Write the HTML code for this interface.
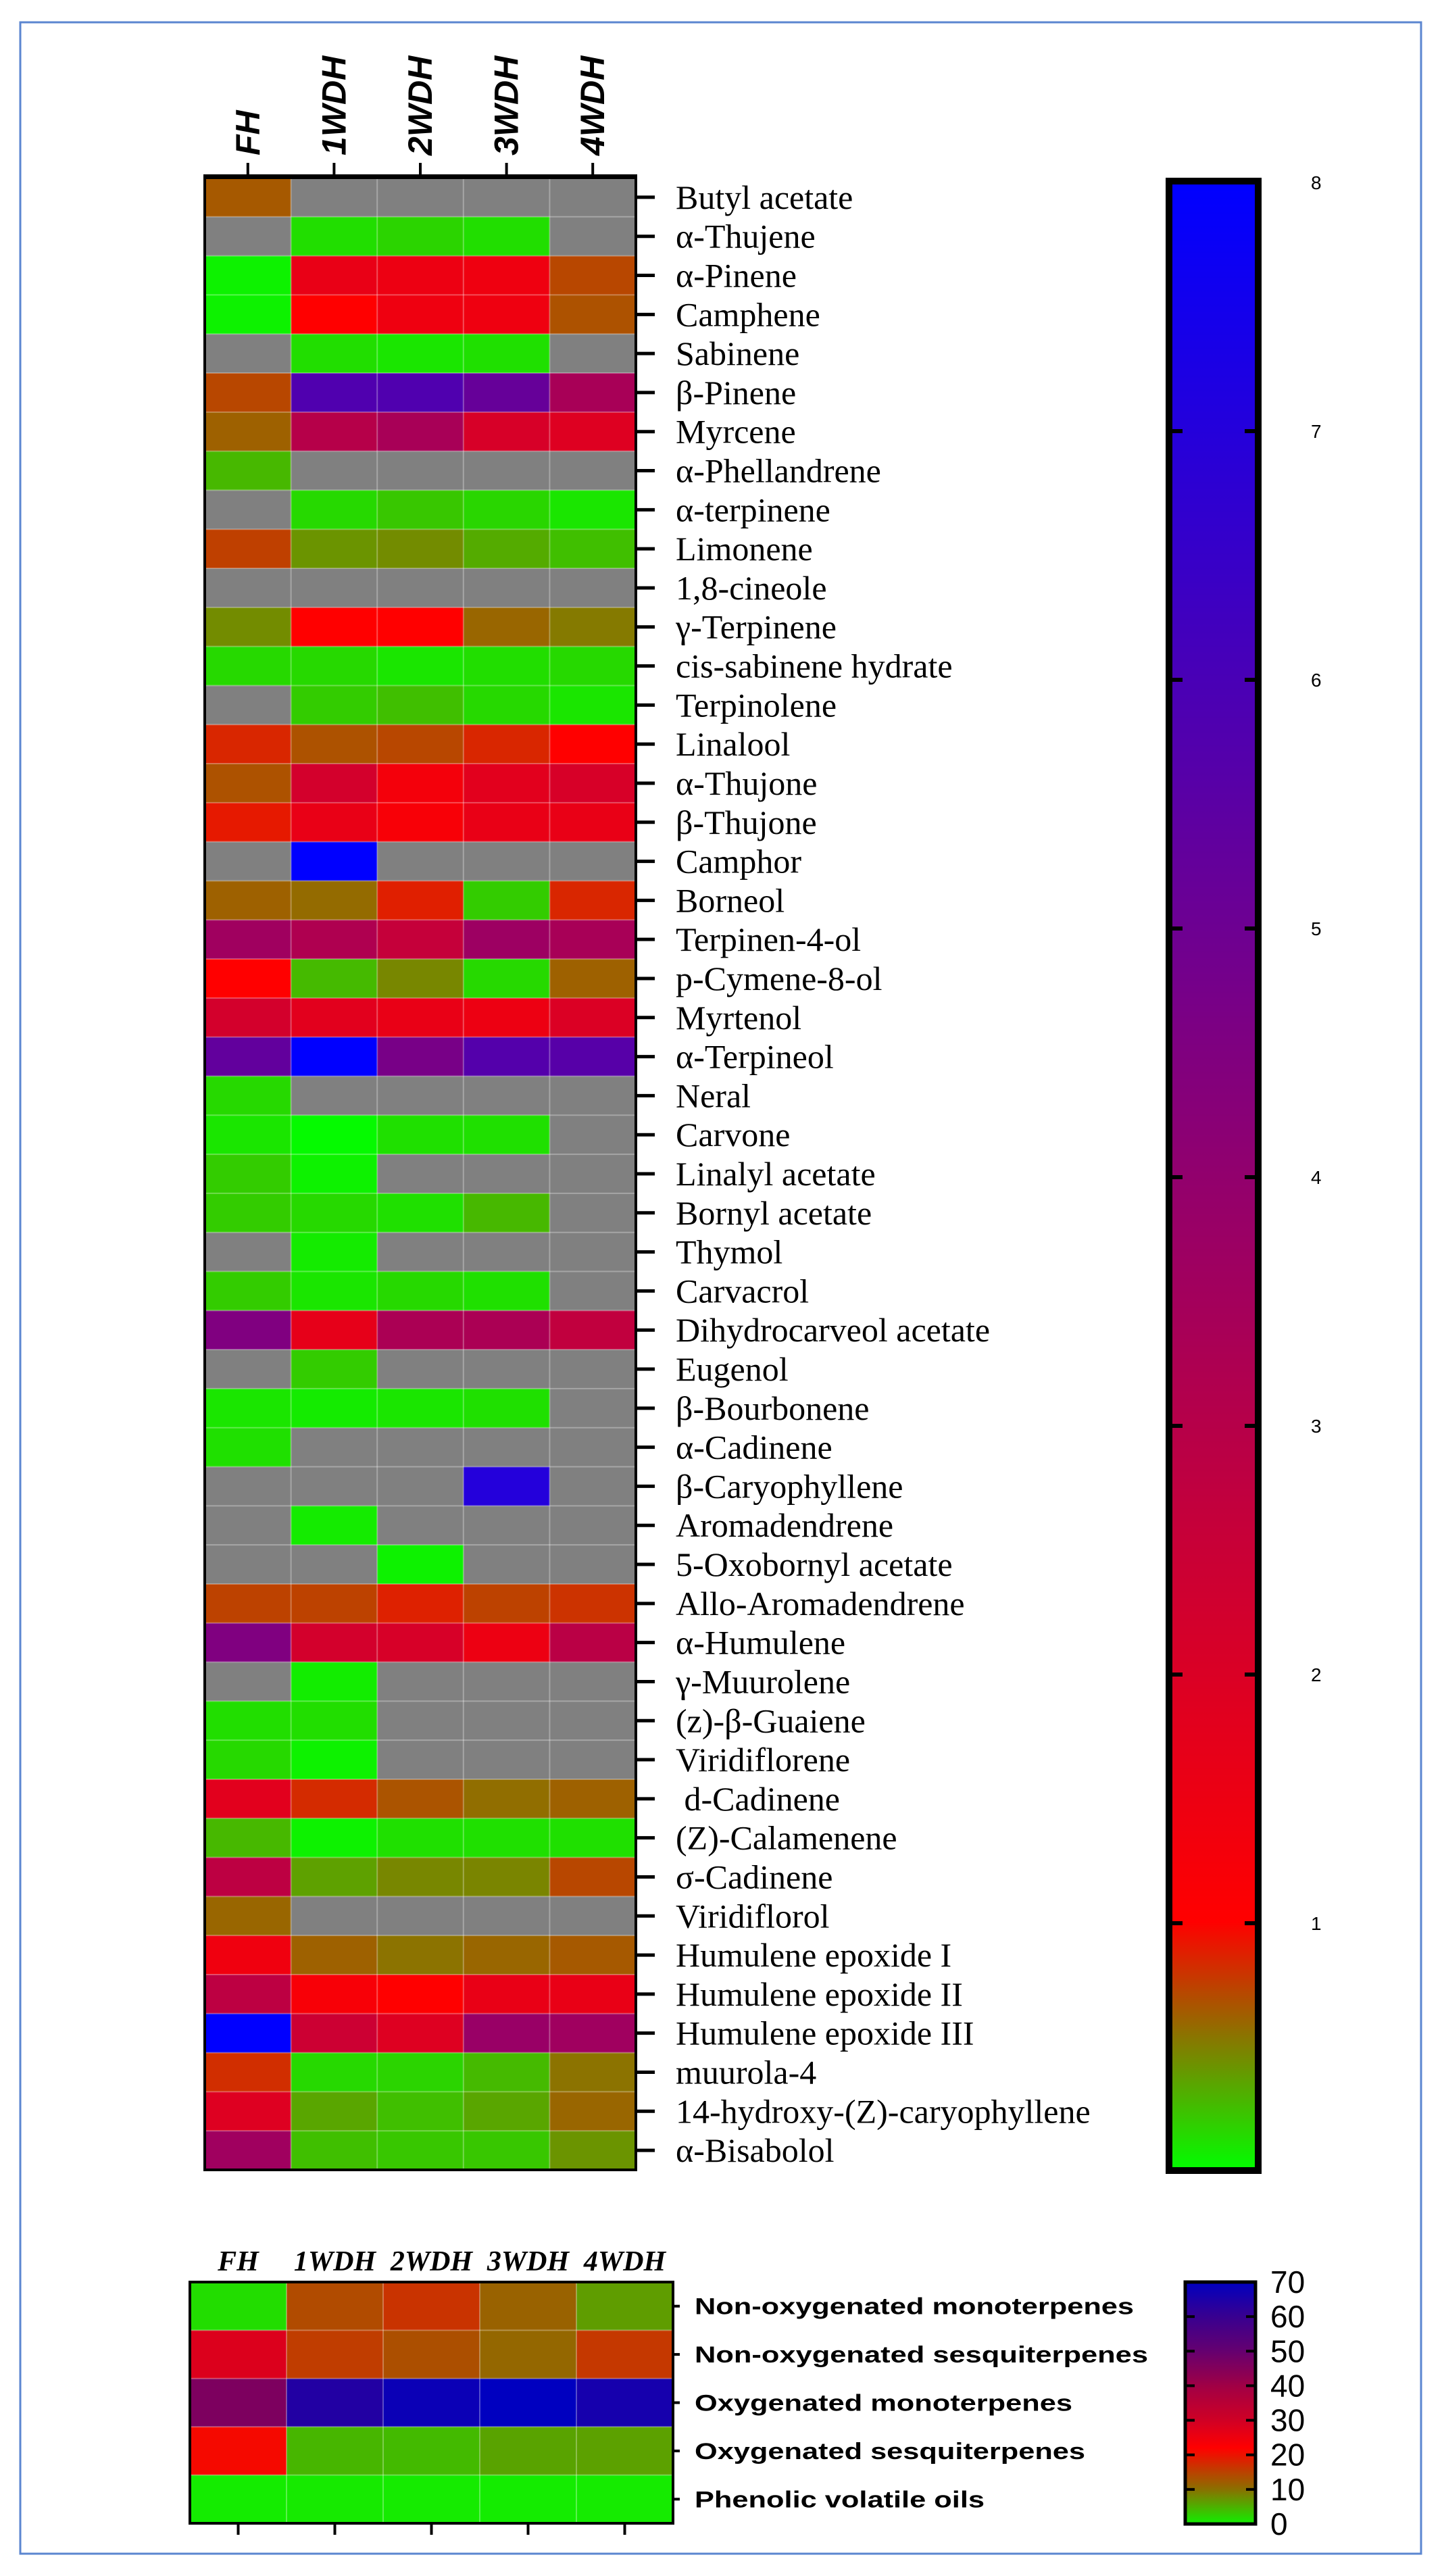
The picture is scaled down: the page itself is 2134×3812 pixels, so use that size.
<!DOCTYPE html>
<html><head><meta charset="utf-8"><style>
html,body{margin:0;padding:0;background:#fff;}
svg{display:block;}
text{white-space:pre;}
</style></head><body>
<svg id="chart" xmlns="http://www.w3.org/2000/svg" width="2134" height="3812" viewBox="0 0 2134 3812">
<defs id="defs"></defs>
<rect x="30" y="33" width="2073" height="3746" fill="#fff" stroke="#5b86d0" stroke-width="3"/>
<g id="topmap"></g>
<g id="botmap"></g>
</svg>
<script>
const NS='http://www.w3.org/2000/svg';
const compounds=['Butyl acetate','α-Thujene','α-Pinene','Camphene','Sabinene','β-Pinene','Myrcene','α-Phellandrene','α-terpinene','Limonene','1,8-cineole','γ-Terpinene','cis-sabinene hydrate','Terpinolene','Linalool','α-Thujone','β-Thujone','Camphor','Borneol','Terpinen-4-ol','p-Cymene-8-ol','Myrtenol','α-Terpineol','Neral','Carvone','Linalyl acetate','Bornyl acetate','Thymol','Carvacrol','Dihydrocarveol acetate','Eugenol','β-Bourbonene','α-Cadinene','β-Caryophyllene','Aromadendrene','5-Oxobornyl acetate','Allo-Aromadendrene','α-Humulene','γ-Muurolene','(z)-β-Guaiene','Viridiflorene',' d-Cadinene','(Z)-Calamenene','σ-Cadinene','Viridiflorol','Humulene epoxide I','Humulene epoxide II','Humulene epoxide III','muurola-4','14-hydroxy-(Z)-caryophyllene','α-Bisabolol'];
const samples=['FH','1WDH','2WDH','3WDH','4WDH'];
const n=null;
const valFH=[0.65,n,0.05,0.05,n,0.72,0.62,0.28,n,0.75,n,0.45,0.15,n,0.85,0.68,0.9,n,0.62,3.6,1.0,2.2,5.3,0.15,0.1,0.2,0.2,n,0.2,4.5,n,0.1,0.12,n,n,n,0.74,4.5,n,0.13,0.15,1.8,0.28,2.8,0.6,1.4,2.8,8,0.82,1.9,3.6];
const val1WDH=[n,0.13,1.6,1.0,0.13,5.8,3.0,n,0.15,0.42,n,1.0,0.15,0.2,0.68,2.2,1.6,8,0.58,3.2,0.27,1.8,8,n,0.02,0.05,0.15,0.08,0.1,1.7,0.2,0.08,n,n,0.08,n,0.74,2.2,0.07,0.13,0.05,0.83,0.05,0.37,n,0.62,1.2,2.4,0.15,0.35,0.25];
const val2WDH=[n,0.17,1.5,1.45,0.1,5.8,3.4,n,0.22,0.45,n,1.0,0.1,0.25,0.72,1.3,1.2,n,0.88,2.6,0.47,1.6,4.7,n,0.12,n,0.12,n,0.15,3.3,n,0.1,n,n,n,0.05,0.87,2.1,n,n,n,0.67,0.12,0.47,n,0.55,1.0,1.9,0.17,0.25,0.22];
const val3WDH=[n,0.13,1.45,1.45,0.12,5.2,2.1,n,0.16,0.33,n,0.6,0.13,0.15,0.85,1.8,1.6,n,0.2,3.7,0.15,1.5,5.7,n,0.12,n,0.28,n,0.12,3.3,n,0.12,n,7.0,n,n,0.74,1.5,n,n,n,0.57,0.12,0.48,n,0.6,1.6,3.8,0.27,0.35,0.22];
const val4WDH=[n,n,0.72,0.68,n,3.4,1.9,n,0.1,0.25,n,0.52,0.15,0.1,1.0,2.1,1.6,n,0.85,3.4,0.62,2.0,5.6,n,n,n,n,n,n,2.7,n,n,n,n,n,n,0.8,2.9,n,n,n,0.62,0.12,0.72,n,0.65,1.6,3.6,0.55,0.6,0.42];
const topTicks=[1,2,3,4,5,6,7,8];
const classes=['Non-oxygenated monoterpenes','Non-oxygenated sesquiterpenes','Oxygenated monoterpenes','Oxygenated sesquiterpenes','Phenolic volatile oils'];
const clsFH=[1.5,28,46,21,0.3];
const cls1WDH=[14,15.5,64,4.5,0.5];
const cls2WDH=[16.5,13.5,68,4.2,0.4];
const cls3WDH=[11.5,11,70,6,0.3];
const cls4WDH=[6.5,16,66,6.2,0.4];
const botTicks=[0,10,20,30,40,50,60,70];

function mk(tag,attrs,parent,txt){const e=document.createElementNS(NS,tag);for(const k in attrs)e.setAttribute(k,attrs[k]);if(txt!=null)e.textContent=txt;parent.appendChild(e);return e;}
function hex(r,g,b){return 'rgb('+Math.round(r)+','+Math.round(g)+','+Math.round(b)+')';}
function topColor(v){if(v==null)return '#808080';if(v<=1){return hex(255*v,255*(1-v),0);}const s=Math.min(1,(v-1)/7);return hex(255*(1-s),0,255*s);}
const bStops=[[0,[16,240,0]],[10,[138,112,0]],[22,[255,0,0]],[30,[208,0,37]],[40,[160,0,69]],[50,[101,0,112]],[60,[56,0,144]],[70,[0,0,192]]];
function botColor(v){for(let i=1;i<bStops.length;i++){if(v<=bStops[i][0]){const a=bStops[i-1],b=bStops[i];const t=(v-a[0])/(b[0]-a[0]);return hex(a[1][0]+t*(b[1][0]-a[1][0]),a[1][1]+t*(b[1][1]-a[1][1]),a[1][2]+t*(b[1][2]-a[1][2]));}}return hex(0,0,192);}

const defs=document.getElementById('defs');
// ---- top heatmap ----
const gTop=document.getElementById('topmap');
const TX=303,TW=638,TY=263,TH=2948;
const cw=TW/samples.length, rh=TH/compounds.length;
const xCol=i=>TX+i*cw, yRow=j=>TY+j*rh;
const topCols=[valFH,val1WDH,val2WDH,val3WDH,val4WDH];
topCols.forEach((col,i)=>{col.forEach((v,j)=>{
  const r=mk('rect',{x:xCol(i),y:yRow(j),width:cw+0.5,height:rh+0.5,fill:topColor(v)},gTop);
  
  
});});
for(let i=1;i<samples.length;i++)mk('line',{x1:xCol(i),x2:xCol(i),y1:TY,y2:TY+TH,stroke:'rgba(255,255,255,0.3)','stroke-width':2},gTop);
for(let j=1;j<compounds.length;j++)mk('line',{x1:TX,x2:TX+TW,y1:yRow(j),y2:yRow(j),stroke:'rgba(255,255,255,0.3)','stroke-width':2},gTop);
mk('rect',{x:TX,y:TY,width:TW,height:TH,fill:'none',stroke:'#000','stroke-width':4},gTop);
mk('line',{x1:TX-2,x2:TX+TW+2,y1:TY-2,y2:TY-2,stroke:'#000','stroke-width':6},gTop);
samples.forEach((s,i)=>{
  const cx=xCol(i)+cw/2;
  mk('line',{x1:cx,x2:cx,y1:TY-22,y2:TY,stroke:'#000','stroke-width':4},gTop);
  const t=mk('text',{x:0,y:0,transform:'translate('+(cx+17)+',230) rotate(-90)','font-family':'Liberation Sans, sans-serif','font-weight':'bold','font-style':'italic','font-size':50,fill:'#000'},gTop,s);
  
  
});
compounds.forEach((c,j)=>{
  const cy=yRow(j)+rh/2;
  mk('line',{x1:TX+TW,x2:TX+TW+28,y1:cy,y2:cy,stroke:'#000','stroke-width':5},gTop);
  const t=mk('text',{x:1000,y:cy+17,'font-family':'Liberation Serif, serif','font-size':50,fill:'#000'},gTop,c);
  
  
});
// top colorbar
const CBX=1730,CBW=132,CBtop=268,CBbot=3212;
const yTop=v=>2846-(v-1)*368;
const g1=mk('linearGradient',{id:'g1',x1:0,y1:0,x2:0,y2:1},defs);
const vTop=8,vBot=Math.max(0,1-(CBbot-2846)/368);
for(let k=0;k<=40;k++){const v=vTop-(vTop-vBot)*k/40;mk('stop',{offset:(k/40),'stop-color':topColor(v)},g1);}
const cb1=mk('rect',{x:CBX,y:CBtop,width:CBW,height:CBbot-CBtop,fill:'url(#g1)',stroke:'#000','stroke-width':10},gTop);


topTicks.forEach(v=>{
  const y=yTop(v);
  if(v<8){mk('line',{x1:CBX,x2:CBX+20,y1:y,y2:y,stroke:'#000','stroke-width':6},gTop);
  mk('line',{x1:CBX+CBW-20,x2:CBX+CBW,y1:y,y2:y,stroke:'#000','stroke-width':6},gTop);}
  const t=mk('text',{x:1940,y:y+10,'font-family':'Liberation Sans, sans-serif','font-size':28,fill:'#000'},gTop,String(v));
  
  
});

// ---- bottom heatmap ----
const gBot=document.getElementById('botmap');
const BX=281,BW=715,BY=3377,BH=357;
const bcw=BW/samples.length, brh=BH/classes.length;
const bx=i=>BX+i*bcw, by=j=>BY+j*brh;
const botCols=[clsFH,cls1WDH,cls2WDH,cls3WDH,cls4WDH];
botCols.forEach((col,i)=>{col.forEach((v,j)=>{
  const r=mk('rect',{x:bx(i),y:by(j),width:bcw+0.5,height:brh+0.5,fill:botColor(v)},gBot);
  
  
});});
for(let i=1;i<samples.length;i++)mk('line',{x1:bx(i),x2:bx(i),y1:BY,y2:BY+BH,stroke:'rgba(255,255,255,0.3)','stroke-width':2},gBot);
for(let j=1;j<classes.length;j++)mk('line',{x1:BX,x2:BX+BW,y1:by(j),y2:by(j),stroke:'rgba(255,255,255,0.3)','stroke-width':2},gBot);
mk('rect',{x:BX,y:BY,width:BW,height:BH,fill:'none',stroke:'#000','stroke-width':4},gBot);
samples.forEach((s,i)=>{
  const cx=bx(i)+bcw/2;
  mk('line',{x1:cx,x2:cx,y1:BY+BH,y2:BY+BH+17,stroke:'#000','stroke-width':4},gBot);
  const t=mk('text',{x:cx,y:3360,'text-anchor':'middle','font-family':'Liberation Serif, serif','font-weight':'bold','font-style':'italic','font-size':42,fill:'#000'},gBot,s);
  
  
});
const clsW=[650,671,559,578,429];
classes.forEach((c,j)=>{
  const cy=by(j)+brh/2;
  mk('line',{x1:BX+BW,x2:BX+BW+10,y1:cy,y2:cy,stroke:'#000','stroke-width':4},gBot);
  const t=mk('text',{x:1028,y:cy+12,'font-family':'Liberation Sans, sans-serif','font-weight':'bold','font-size':34,fill:'#000',textLength:clsW[j],lengthAdjust:'spacingAndGlyphs'},gBot,c);
  
  
});
const B2X=1754,B2W=104,B2top=3377,B2bot=3735;
const yBot=v=>B2bot-(v/70)*(B2bot-B2top);
const g2=mk('linearGradient',{id:'g2',x1:0,y1:0,x2:0,y2:1},defs);
for(let k=0;k<=35;k++){const v=70-70*k/35;mk('stop',{offset:(k/35),'stop-color':botColor(v)},g2);}
const cb2=mk('rect',{x:B2X,y:B2top,width:B2W,height:B2bot-B2top,fill:'url(#g2)',stroke:'#000','stroke-width':5},gBot);


botTicks.forEach(v=>{
  const y=yBot(v);
  if(v>0&&v<70){mk('line',{x1:B2X,x2:B2X+14,y1:y,y2:y,stroke:'#000','stroke-width':4},gBot);
  mk('line',{x1:B2X+B2W-14,x2:B2X+B2W,y1:y,y2:y,stroke:'#000','stroke-width':4},gBot);}
  const t=mk('text',{x:1880,y:y+16,'font-family':'Liberation Sans, sans-serif','font-size':46,fill:'#000'},gBot,String(v));
  
  
});
</script>
</body></html>
